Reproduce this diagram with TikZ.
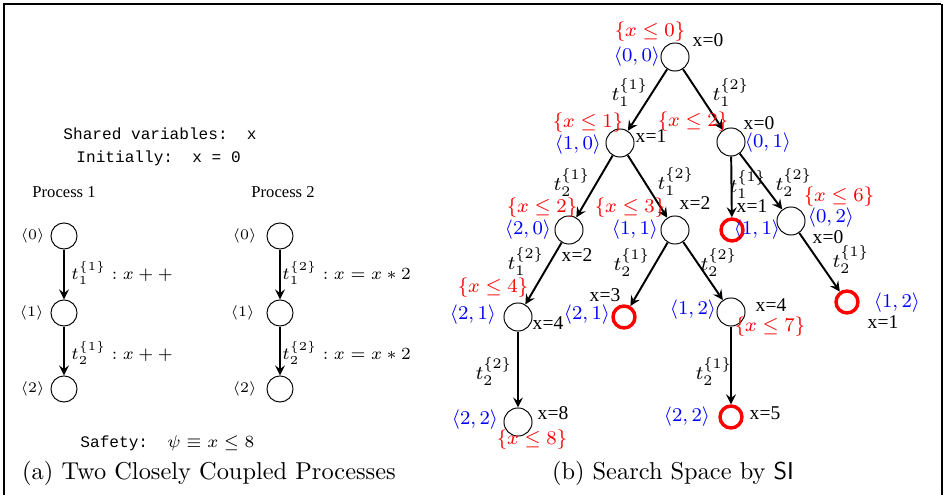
\documentclass[tikz,border=0pt]{standalone}
\usepackage{fontspec}
\newfontfamily\timesfont{Liberation Serif}
\newfontfamily\courfont{Liberation Mono}
\begin{document}
\begin{tikzpicture}[x=0.41pt,y=-0.41pt,
    arrow/.style = {thick,-stealth},
    st/.style = {circle,draw,thin,minimum size=11.5pt,inner sep=0pt},
    bad/.style = {circle,draw=red,line width=1.4pt,minimum size=9pt,inner sep=0pt},
    pst/.style = {circle,draw,thin,minimum size=10.7pt,inner sep=0pt},
    cons/.style = {text=red,font=\footnotesize,inner sep=0pt},
    loc/.style = {text=blue,font=\footnotesize,inner sep=0pt},
    xval/.style = {font=\timesfont\fontsize{8}{9}\selectfont,inner sep=0pt},
    tl/.style = {font=\footnotesize,inner sep=0pt},
    ptl/.style = {font=\scriptsize,inner sep=0pt,anchor=west},
    ploc/.style = {font=\fontsize{6.5}{7}\selectfont,inner sep=0pt,anchor=east},
    mono/.style = {font=\courfont\fontsize{6.6}{8}\selectfont,inner sep=0pt,anchor=west}]
    \useasboundingbox (0,0) rectangle (944,495);
    % frame
    \draw[line width=1.2pt] (4,495) -- (4,4) -- (941,4);
    \draw[line width=0.7pt] (942,4) -- (942,495);

    % (a) the two processes
    \node[mono] (shared) at (63,134) {Shared~variables:~~x};
    \node[mono] (init) at (76,158) {Initially:~~x~=~0};
    \node[xval,anchor=west,font=\timesfont\fontsize{6.8}{8}\selectfont] (proc1) at (32,192) {Process 1};
    \node[xval,anchor=west,font=\timesfont\fontsize{6.8}{8}\selectfont] (proc2) at (251,192) {Process 2};

    \node[pst] (p1s0) at (64,236) {};
    \node[pst] (p1s1) at (64,313) {};
    \node[pst] (p1s2) at (64,389) {};
    \node[pst] (p2s0) at (280,236) {};
    \node[pst] (p2s1) at (280,313) {};
    \node[pst] (p2s2) at (280,389) {};
    \node[ploc] (p1l0) at (45,236) {$\langle 0\rangle$};
    \node[ploc] (p1l1) at (44,313) {$\langle 1\rangle$};
    \node[ploc] (p1l2) at (45,389) {$\langle 2\rangle$};
    \node[ploc] (p2l0) at (257,236) {$\langle 0\rangle$};
    \node[ploc] (p2l1) at (255,313) {$\langle 1\rangle$};
    \node[ploc] (p2l2) at (257,389) {$\langle 2\rangle$};
    \draw[arrow] (p1s0) -- (p1s1);
    \draw[arrow] (p1s1) -- (p1s2);
    \draw[arrow] (p2s0) -- (p2s1);
    \draw[arrow] (p2s1) -- (p2s2);
    \node[ptl] (p1t1) at (71,273) {$t_1^{\{1\}}: x++$};
    \node[ptl] (p1t2) at (71,353) {$t_2^{\{1\}}: x++$};
    \node[ptl] (p2t1) at (282,273) {$t_1^{\{2\}}: x=x*2$};
    \node[ptl] (p2t2) at (282,353) {$t_2^{\{2\}}: x=x*2$};

    \node[mono] (safety) at (80,443) {Safety:~~\fontsize{6.6}{8}\selectfont$\psi\equiv x\leq 8$};
    \node (capa) at (209,473) {(a) Two Closely Coupled Processes};

    % (b) search space
    \node[st] (r) at (675,57) {};
    \node[st] (a) at (620,143) {};
    \node[st] (b) at (731,142) {};
    \node[st] (c) at (569,230) {};
    \node[st] (d) at (675,230) {};
    \node[bad] (e) at (732,230) {};
    \node[st] (f) at (791,221) {};
    \node[bad] (g) at (847,302) {};
    \node[st] (h) at (518,317) {};
    \node[bad] (i) at (624,317) {};
    \node[st] (j) at (731,312) {};
    \node[st] (k) at (518,422) {};
    \node[bad] (l) at (731,417) {};

    \draw[arrow] (r) -- (a);
    \draw[arrow] (r) -- (b);
    \draw[arrow] (a) -- (c);
    \draw[arrow] (a) -- (d);
    \draw[arrow] (b) -- (e);
    \draw[arrow] (b) -- (f);
    \draw[arrow] (f) -- (g);
    \draw[arrow] (c) -- (h);
    \draw[arrow] (d) -- (i);
    \draw[arrow] (d) -- (j);
    \draw[arrow] (h) -- (k);
    \draw[arrow] (j) -- (l);

    % transition labels
    \node[tl] (tra) at (630,93) {$t_1^{\{1\}}$};
    \node[tl] (trb) at (731,93) {$t_1^{\{2\}}$};
    \node[tl] (tac) at (572,183) {$t_2^{\{1\}}$};
    \node[tl] (tad) at (676,182) {$t_1^{\{2\}}$};
    \node[tl] (tbe) at (748,185) {$t_1^{\{1\}}$};
    \node[tl] (tbf) at (794,183) {$t_2^{\{2\}}$};
    \node[tl] (tfg) at (851,260) {$t_2^{\{1\}}$};
    \node[tl] (tch) at (526,262) {$t_1^{\{2\}}$};
    \node[tl] (tdi) at (632,263) {$t_2^{\{1\}}$};
    \node[tl] (tdj) at (719,263) {$t_2^{\{2\}}$};
    \node[tl] (thk) at (494,372) {$t_2^{\{2\}}$};
    \node[tl] (tjl) at (714,372) {$t_2^{\{1\}}$};

    % locations
    \node[loc] (lr) at (637,57) {$\langle 0,0\rangle$};
    \node[loc] (la) at (578,145) {$\langle 1,0\rangle$};
    \node[loc] (lb) at (768,143) {$\langle 0,1\rangle$};
    \node[loc] (lc) at (528,230) {$\langle 2,0\rangle$};
    \node[loc] (ld) at (635,230) {$\langle 1,1\rangle$};
    \node[loc] (le) at (757,230) {$\langle 1,1\rangle$};
    \node[loc] (lf) at (831,218) {$\langle 0,2\rangle$};
    \node[loc] (lg) at (897,303) {$\langle 1,2\rangle$};
    \node[loc] (lh) at (473,315) {$\langle 2,1\rangle$};
    \node[loc] (li) at (587,315) {$\langle 2,1\rangle$};
    \node[loc] (lj) at (693,310) {$\langle 1,2\rangle$};
    \node[loc] (lk) at (475,420) {$\langle 2,2\rangle$};
    \node[loc] (ll) at (687,417) {$\langle 2,2\rangle$};

    % constraints
    \node[cons] (cr) at (650,32) {$\{x\leq 0\}$};
    \node[cons] (ca) at (588,123) {$\{x\leq 1\}$};
    \node[cons] (cb) at (693,122) {$\{x\leq 2\}$};
    \node[cons] (cc) at (542,208) {$\{x\leq 2\}$};
    \node[cons] (cd) at (630,208) {$\{x\leq 3\}$};
    \node[cons] (cf) at (839,197) {$\{x\leq 6\}$};
    \node[cons] (ch) at (493,288) {$\{x\leq 4\}$};
    \node[cons] (cj) at (770,327) {$\{x\leq 7\}$};
    \node[cons] (ck) at (532,440) {$\{x\leq 8\}$};

    % values of x
    \node[xval] (xr) at (708,40) {x=0};
    \node[xval] (xa) at (651,136) {x=1};
    \node[xval] (xb) at (759,123) {x=0};
    \node[xval] (xc) at (577,255) {x=2};
    \node[xval] (xd) at (695,203) {x=2};
    \node[xval] (xe) at (752,206) {x=1};
    \node[xval] (xf) at (828,237) {x=0};
    \node[xval] (xg) at (883,322) {x=1};
    \node[xval] (xh) at (548,323) {x=4};
    \node[xval] (xi) at (605,295) {x=3};
    \node[xval] (xj) at (771,305) {x=4};
    \node[xval] (xk) at (553,413) {x=8};
    \node[xval] (xl) at (765,413) {x=5};

    \node (capb) at (673,473) {(b) Search Space by \textsf{SI}};
\end{tikzpicture}
\end{document}
